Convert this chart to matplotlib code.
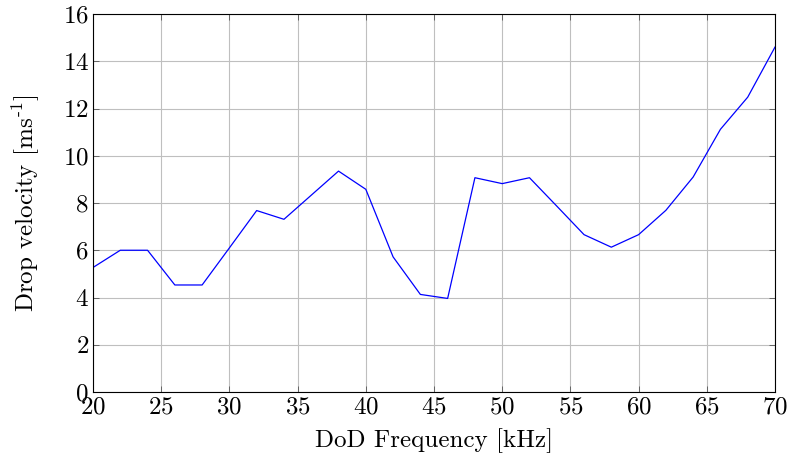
import matplotlib
matplotlib.use("Agg")
import matplotlib.pyplot as plt

freq_khz = [20, 22, 24, 26, 28, 30, 32, 34, 36, 38, 40, 42, 44, 46, 48, 50,
            52, 54, 56, 58, 60, 62, 64, 66, 68, 70]
velocity = [5.27, 6.0, 6.0, 4.53, 4.53, 6.1, 7.68, 7.31, 8.33, 9.35, 8.58,
            5.72, 4.13, 3.96, 9.07, 8.82, 9.07, 7.87, 6.66, 6.13, 6.66, 7.69,
            9.1, 11.12, 12.48, 14.6]
x_ticks = [20, 25, 30, 35, 40, 45, 50, 55, 60, 65, 70]
y_ticks = [0, 2, 4, 6, 8, 10, 12, 14, 16]

plt.rcParams['font.family'] = ['cmr10', 'DejaVu Serif']
plt.rcParams['mathtext.fontset'] = 'cm'
plt.rcParams['axes.formatter.use_mathtext'] = True

fig = plt.figure(figsize=(7.91, 4.66), dpi=100)
ax = fig.add_axes([93/791, 74/466, (775-93)/791, (392-14)/466])
ax.plot(freq_khz, velocity, color='#0000ff', lw=0.9)
ax.set_xlim(20, 70)
ax.set_ylim(0, 16)
ax.set_xticks(x_ticks)
ax.set_yticks(y_ticks)
ax.grid(True, color='#bfbfbf', lw=0.8)
ax.set_axisbelow(True)
ax.tick_params(direction='in', top=True, right=True, length=4, width=0.6,
               color='#555555', labelsize=18, pad=3)
for s in ax.spines.values():
    s.set_linewidth(0.8)
ax.set_xlabel('DoD Frequency [kHz]', fontsize=18, labelpad=7)
ax.set_ylabel(r'Drop velocity [ms$^{\text{-}1}$]', fontsize=18, labelpad=15)
fig.savefig('out.png', dpi=100)
